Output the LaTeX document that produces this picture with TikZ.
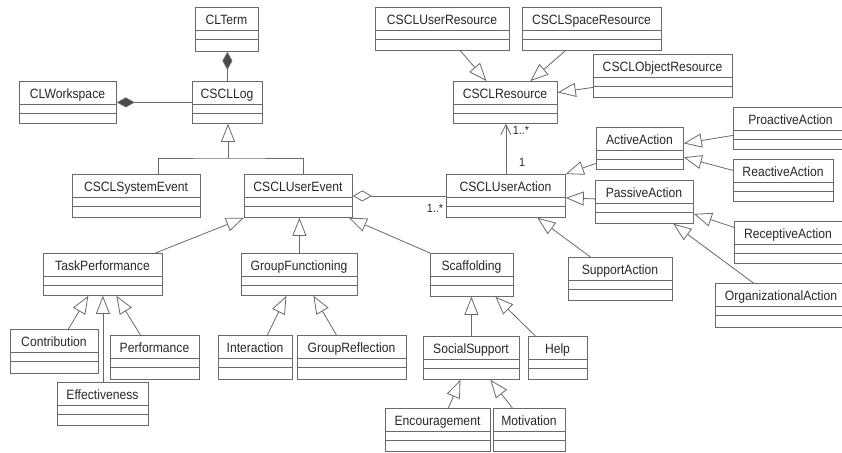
\documentclass[tikz,border=0pt]{standalone}
\usepackage{fontspec}
\newfontfamily\umlfont{Liberation Sans}[FakeStretch=0.9]
\usetikzlibrary{arrows.meta,calc}
\definecolor{linecol}{RGB}{105,105,105}
\definecolor{txtcol}{RGB}{40,40,40}
\tikzset{
  clsbox/.style={draw=linecol, line width=0.8pt, fill=white, inner sep=0pt, rectangle},
  clsline/.style={draw=linecol, line width=0.8pt},
  clstext/.style={font=\umlfont\fontsize{13.5}{16}\selectfont, text=txtcol, inner sep=0pt},
  multlabel/.style={font=\umlfont\fontsize{12}{14}\selectfont, text=txtcol, inner sep=0pt},
  conn/.style={draw=linecol, line width=0.8pt},
  gen/.style={conn, -{Triangle[open, fill=white, length=18pt, width=14pt]}},
  comp/.style={conn, -{Diamond[fill=linecol!70!black, length=18pt, width=10pt]}},
  aggr/.style={conn, -{Diamond[open, fill=white, length=19pt, width=11pt]}},
  nav/.style={conn, -{Straight Barb[length=10pt, width=10pt]}},
}
\newcommand\umlcls[6]{%
  \node[clsbox, anchor=north west, minimum width={(#4-#2)*1pt}, minimum height={(#5-#3)*1pt}] (#1) at (#2,#3) {};
  \draw[clsline] ($(#1.north west)+(0,23.5)$) -- ($(#1.north east)+(0,23.5)$);
  \draw[clsline] ($(#1.north west)+(0,32)$) -- ($(#1.north east)+(0,32)$);
  \node[clstext, anchor=base] (#1-t) at ({(#2+#4)/2},{#3+17.5}) {#6};
}
\begin{document}
\begin{tikzpicture}[x=1pt,y=-1pt]
\useasboundingbox (0,0) rectangle (842,452);
\clip (0,0) rectangle (842,452);
\fill[white] (0,0) rectangle (842,452);

% classes
\umlcls{CLTerm}{195}{7}{258}{51}{CLTerm}
\umlcls{CLWorkspace}{19}{81}{116}{123}{CLWorkspace}
\umlcls{CSCLLog}{192}{81}{262}{123}{CSCLLog}
\umlcls{CSCLUserResource}{375}{7}{509}{50}{CSCLUserResource}
\umlcls{CSCLSpaceResource}{522}{7}{661}{50}{CSCLSpaceResource}
\umlcls{CSCLObjectResource}{593}{54}{732}{97}{CSCLObjectResource}
\umlcls{CSCLResource}{453}{81}{557}{123}{CSCLResource}
\umlcls{CSCLSystemEvent}{72}{174}{200}{217}{CSCLSystemEvent}
\umlcls{CSCLUserEvent}{244}{174}{352}{217}{CSCLUserEvent}
\umlcls{CSCLUserAction}{446}{174}{565}{217}{CSCLUserAction}
\umlcls{ActiveAction}{596}{127}{683}{169}{ActiveAction}
\umlcls{PassiveAction}{595}{180}{693}{223}{PassiveAction}
\umlcls{ProactiveAction}{733}{107}{848}{149}{ProactiveAction}
\umlcls{ReactiveAction}{733}{159}{833}{201}{ReactiveAction}
\umlcls{ReceptiveAction}{734}{221}{842}{263}{ReceptiveAction}
\umlcls{OrganizationalAction}{715}{283}{847}{327}{OrganizationalAction}
\umlcls{SupportAction}{568}{257}{672}{300}{SupportAction}
\umlcls{TaskPerformance}{43}{253}{162}{295}{TaskPerformance}
\umlcls{GroupFunctioning}{241}{253}{357}{295}{GroupFunctioning}
\umlcls{Scaffolding}{430}{253}{513}{296}{Scaffolding}
\umlcls{Contribution}{10}{329}{98}{373}{Contribution}
\umlcls{Performance}{110}{335}{199}{379}{Performance}
\umlcls{Effectiveness}{57}{382}{148}{425}{Effectiveness}
\umlcls{Interaction}{218}{335}{292}{379}{Interaction}
\umlcls{GroupReflection}{297}{335}{406}{379}{GroupReflection}
\umlcls{SocialSupport}{423}{336}{519}{379}{SocialSupport}
\umlcls{Help}{528}{336}{587}{379}{Help}
\umlcls{Encouragement}{385}{408}{490}{451}{Encouragement}
\umlcls{Motivation}{493}{408}{565}{451}{Motivation}

% compositions
\draw[comp] (CSCLLog.north) -- (CSCLLog.north |- CLTerm.south);
\draw[comp] (CSCLLog.west) -- (CLWorkspace.east);

% CSCLLog generalisation tree
\coordinate (j1) at (228,158);
\draw[conn] ($(CSCLSystemEvent.north)+(22,0)$) |- (j1) -| ($(CSCLUserEvent.north)+(5,0)$);
\draw[gen] (j1) -- (j1 |- CSCLLog.south);

% resources
\draw[gen] ($(CSCLUserResource.south)+(18,0)$) -- ($(CSCLResource.north)+(-19,0)$);
\draw[gen] ($(CSCLSpaceResource.south)+(-26.5,0)$) -- ($(CSCLResource.north)+(25,0)$);
\draw[gen] ($(CSCLObjectResource.west)+(0,11.5)$) -- ($(CSCLResource.east)+(0,-10)$);
\draw[nav] (CSCLUserAction.north) -- (CSCLUserAction.north |- CSCLResource.south);
\node[multlabel] (m1) at (521,130) {1..*};
\node[multlabel] (m2) at (522,162) {1};

% user event / user action
\draw[aggr] (CSCLUserAction.west) -- (CSCLUserAction.west -| CSCLUserEvent.east);
\node[multlabel] (m3) at (435,208) {1..*};

% actions
\draw[gen] ($(ActiveAction.west)+(0,15)$) -- (CSCLUserAction.north east);
\draw[gen] ($(PassiveAction.west)+(0,-3)$) -- ($(CSCLUserAction.east)+(0,2)$);
\draw[gen] ($(ProactiveAction.west)+(0,7)$) -- ($(ActiveAction.east)+(0,-5)$);
\draw[gen] ($(ReactiveAction.west)+(0,-10)$) -- ($(ActiveAction.east)+(0,9)$);
\draw[gen] ($(ReceptiveAction.west)+(0,-15)$) -- ($(PassiveAction.east)+(0,12)$);
\draw[gen] ($(OrganizationalAction.north)+(-28,0)$) -- ($(PassiveAction.south)+(29,0)$);
\draw[gen] ($(SupportAction.north)+(-30,0)$) -- ($(CSCLUserAction.south)+(31.5,0)$);

% user event subclasses
\draw[gen] ($(TaskPerformance.north)+(52.5,0)$) -- (CSCLUserEvent.south west);
\draw[gen] (GroupFunctioning.north) -- (GroupFunctioning.north |- CSCLUserEvent.south);
\draw[gen] (Scaffolding.north west) -- ($(CSCLUserEvent.south east)+(-4,0)$);

% task performance subclasses
\draw[gen] ($(Contribution.north)+(14,0)$) -- ($(TaskPerformance.south)+(-14.5,0)$);
\draw[gen] (Effectiveness.north) -- (Effectiveness.north |- TaskPerformance.south);
\draw[gen] ($(Performance.north)+(-14.5,0)$) -- ($(TaskPerformance.south)+(13.5,0)$);

% group functioning subclasses
\draw[gen] ($(Interaction.north)+(12,0)$) -- ($(GroupFunctioning.south)+(-13,0)$);
\draw[gen] ($(GroupReflection.north)+(-15.5,0)$) -- ($(GroupFunctioning.south)+(14,0)$);

% scaffolding subclasses
\draw[gen] (SocialSupport.north) -- (SocialSupport.north |- Scaffolding.south);
\draw[gen] ($(Help.north)+(-22.5,0)$) -- ($(Scaffolding.south)+(23.5,0)$);

% social support subclasses
\draw[gen] ($(Encouragement.north)+(10.5,0)$) -- ($(SocialSupport.south)+(-11,0)$);
\draw[gen] ($(Motivation.north)+(-17,0)$) -- ($(SocialSupport.south)+(19,0)$);
\end{tikzpicture}
\end{document}
